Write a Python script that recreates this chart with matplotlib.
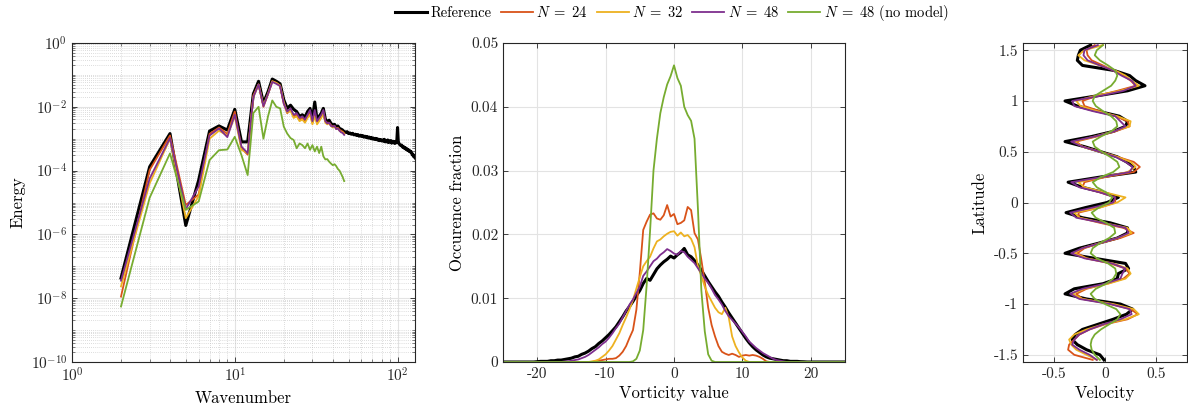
import numpy as np
import matplotlib
matplotlib.use("Agg")
import matplotlib.pyplot as plt
from matplotlib.ticker import LogLocator, NullFormatter, FuncFormatter, FixedLocator

plt.rcParams['font.family'] = 'serif'
plt.rcParams['font.serif'] = ['cmr10']
plt.rcParams['mathtext.fontset'] = 'cm'
plt.rcParams['axes.unicode_minus'] = False
plt.rcParams['axes.formatter.use_mathtext'] = True

# ---------------- data ----------------
labels = ['Reference', r'$N\;=\;24$', r'$N\;=\;32$', r'$N\;=\;48$', r'$N\;=\;48$ (no model)']
colors = ['#000000', '#D95319', '#EDB120', '#7E2F8E', '#77AC30']

# Energy spectrum (log10 of energy)
k_ref = np.arange(2, 129)
k_sim = np.arange(2, 48)
logE_ref = [-7.37, -3.88, -2.84, -5.72, -4.3, -2.76, -2.6, -2.73, -2.08, -3.1,
            -3.1, -1.6, -1.2, -1.88, -1.53, -1.13, -1.2, -1.28, -1.78, -2.05,
            -1.95, -2.08, -2.15, -2.3, -2.25, -2.32, -2.15, -2.05, -2.38, -1.85,
            -2.4, -2.3, -2.2, -2.05, -2.38, -2.47, -2.42, -2.52, -2.57, -2.55,
            -2.63, -2.6, -2.68, -2.7, -2.73, -2.78,
            -2.8, -2.78, -2.84, -2.82, -2.86, -2.83, -2.88, -2.86, -2.9, -2.87,
            -2.92, -2.89, -2.93, -2.9, -2.95, -2.92, -2.96, -2.93, -2.98, -2.95,
            -2.99, -2.96, -3.01, -2.98, -3.02, -2.99, -3.03, -3.0, -3.05, -3.02,
            -3.06, -3.03, -3.07, -3.04, -3.08, -3.02, -3.1, -3.06, -3.1, -3.04,
            -3.12, -3.07, -3.1, -3.06, -3.14, -3.08, -3.12, -3.09, -3.15, -3.1,
            -3.13, -3.05, -2.65, -3.08, -3.15, -3.18, -3.2, -3.22, -3.2, -3.25,
            -3.27, -3.25, -3.3, -3.28, -3.32, -3.3, -3.35, -3.33, -3.37, -3.35,
            -3.4, -3.38, -3.42, -3.4, -3.45, -3.5, -3.48, -3.55, -3.52, -3.58, -3.6]
logE_24 = [-7.95, -3.98, -2.9, -5.08, -4.75, -2.85, -2.65, -2.85, -2.15, -3.3,
           -3.5, -1.65, -1.3, -2.0, -1.6, -1.2, -1.25, -1.35, -1.9, -2.2,
           -2.1, -2.3, -2.25, -2.4, -2.35, -2.45, -2.3, -2.2, -2.5, -2.2,
           -2.5, -2.4, -2.3, -2.15, -2.45, -2.5, -2.5, -2.58, -2.62, -2.6,
           -2.68, -2.66, -2.72, -2.75, -2.78, -2.83]
logE_32 = [-7.63, -4.4, -3.0, -5.49, -4.8, -3.0, -2.75, -2.9, -2.3, -3.35,
           -3.45, -1.7, -1.3, -1.95, -1.6, -1.2, -1.25, -1.33, -1.85, -2.18,
           -2.12, -2.35, -2.3, -2.45, -2.4, -2.5, -2.35, -2.25, -2.55, -2.3,
           -2.55, -2.45, -2.35, -2.2, -2.5, -2.55, -2.52, -2.6, -2.65, -2.62,
           -2.7, -2.68, -2.75, -2.78, -2.8, -2.85]
logE_48 = [-7.45, -4.25, -2.98, -5.21, -4.5, -2.9, -2.68, -2.95, -2.25, -3.25,
           -3.45, -1.7, -1.3, -1.98, -1.6, -1.22, -1.28, -1.35, -1.9, -2.15,
           -2.05, -2.25, -2.2, -2.35, -2.3, -2.4, -2.25, -2.1, -2.45, -2.1,
           -2.45, -2.35, -2.25, -2.1, -2.45, -2.52, -2.5, -2.6, -2.62, -2.6,
           -2.7, -2.68, -2.75, -2.8, -2.82, -2.88]
logE_48nm = [-8.26, -4.85, -3.46, -5.23, -4.97, -3.67, -3.36, -3.34, -2.94, -3.52,
             -4.14, -2.2, -2.0, -3.0, -2.3, -1.8, -2.0, -2.05, -2.62, -2.84,
             -2.98, -3.04, -3.3, -3.15, -3.2, -3.3, -3.15, -3.35, -3.2, -3.4,
             -3.25, -3.45, -3.25, -3.55, -3.65, -3.64, -3.72, -3.78, -3.83, -3.8,
             -3.86, -3.95, -4.0, -4.1, -4.2, -4.33]

# Vorticity histogram
vort = np.arange(-50, 51) * 0.5
occ_ref = [0.0] * 10 + [
    0.00005, 0.0001, 0.0001, 0.0001, 0.0002, 0.0002, 0.0003, 0.0003, 0.0004, 0.0005,
    0.0006, 0.0008, 0.0009, 0.0012, 0.0014, 0.0017, 0.0021, 0.0024, 0.0029, 0.0033,
    0.0038, 0.0043, 0.0049, 0.0055, 0.0063, 0.0071, 0.0080, 0.0087, 0.0095, 0.0104,
    0.0112, 0.0123, 0.0131, 0.0128, 0.0137, 0.0146, 0.0152, 0.0157, 0.0161, 0.0166,
    0.0163, 0.0168, 0.0172, 0.0178, 0.0168, 0.0165, 0.0159, 0.0152, 0.0144, 0.0135,
    0.0126, 0.0118, 0.0110, 0.0103, 0.0094, 0.0086, 0.0077, 0.0069, 0.0061, 0.0053,
    0.0045, 0.0037, 0.0030, 0.0024, 0.0019, 0.0015, 0.0011, 0.0008, 0.0006, 0.0005,
    0.0004, 0.0003, 0.0002, 0.0002, 0.0001, 0.0001, 0.0001, 0.00005, 0.00003] + [0.0] * 12
occ_24 = [0.0] * 27 + [
    0.0001, 0.0002, 0.0003, 0.0004, 0.0005, 0.0005, 0.0006, 0.0010, 0.0016, 0.0025,
    0.0038, 0.0050, 0.0082, 0.0140, 0.0207, 0.0220, 0.0231, 0.0233, 0.0225, 0.0223,
    0.0230, 0.0246, 0.0228, 0.0232, 0.0216, 0.0218, 0.0222, 0.0243, 0.0238, 0.0202,
    0.0192, 0.0160, 0.0125, 0.0085, 0.0058, 0.0040, 0.0025, 0.0016, 0.0013, 0.0011,
    0.0013, 0.0011, 0.0008, 0.0010, 0.0011, 0.0010, 0.0011, 0.0010, 0.0008, 0.0005,
    0.0001] + [0.0] * 23
occ_32 = [0.0] * 26 + [
    0.0001, 0.0002, 0.0004, 0.0008, 0.0012, 0.0018, 0.0025, 0.0035, 0.0045, 0.0058,
    0.0070, 0.0083, 0.0097, 0.0115, 0.0133, 0.0150, 0.0158, 0.0165, 0.0178, 0.0189,
    0.0192, 0.0197, 0.0201, 0.0204, 0.0205, 0.0198, 0.0203, 0.0197, 0.0199, 0.0193,
    0.0180, 0.0150, 0.0135, 0.0118, 0.0105, 0.0095, 0.0085, 0.0078, 0.0075, 0.0085,
    0.0070, 0.0040, 0.0025, 0.0015, 0.0007, 0.0002, 0.0] + [0.0] * 28
occ_48 = [0.0] * 18 + [
    0.0001, 0.0001, 0.0002, 0.0003, 0.0004, 0.0006, 0.0008, 0.0011, 0.0015, 0.0019,
    0.0023, 0.0028, 0.0032, 0.0038, 0.0045, 0.0053, 0.0060, 0.0070, 0.0080, 0.0090,
    0.0098, 0.0108, 0.0118, 0.0135, 0.0142, 0.0150, 0.0158, 0.0162, 0.0168, 0.0172,
    0.0177, 0.0174, 0.0170, 0.0168, 0.0174, 0.0172, 0.0165, 0.0160, 0.0155, 0.0147,
    0.0139, 0.0131, 0.0124, 0.0115, 0.0105, 0.0098, 0.0090, 0.0080, 0.0072, 0.0066,
    0.0060, 0.0054, 0.0047, 0.0040, 0.0032, 0.0027, 0.0022, 0.0018, 0.0014, 0.0011,
    0.0008, 0.0005, 0.0003, 0.0002, 0.0001] + [0.0] * 18
occ_48nm = [0.0] * 38 + [
    0.0001, 0.0005, 0.0018, 0.0050, 0.0120, 0.0205, 0.0300, 0.0350, 0.0390, 0.0415,
    0.0435, 0.0448, 0.0465, 0.0445, 0.0433, 0.0400, 0.0387, 0.0378, 0.0350, 0.0240,
    0.0112, 0.0048, 0.0012, 0.0002] + [0.0] * 39

# Zonal velocity profile
lat = np.round(np.arange(-31, 32) * 0.05, 2)
vel_ref = [-0.01, -0.05, -0.18, -0.27, -0.32, -0.29, -0.22, -0.07, 0.08, 0.21,
           0.27, 0.15, -0.18, -0.39, -0.30, -0.02, 0.12, 0.13, 0.23, 0.20,
           -0.10, -0.39, -0.25, -0.06, 0.12, 0.22, 0.22, 0.05, -0.22, -0.38,
           -0.19, 0.02, 0.13, -0.02, -0.22, -0.36, -0.05, 0.30, 0.28, 0.21,
           0.12, -0.04, -0.20, -0.39, -0.13, 0.08, 0.20, 0.22, 0.14, -0.07,
           -0.27, -0.39, -0.08, 0.22, 0.39, 0.30, 0.24, 0.09, -0.22, -0.27,
           -0.26, -0.24, -0.14]
vel_24 = [-0.12, -0.30, -0.36, -0.35, -0.30, -0.25, -0.15, 0.0, 0.22, 0.32,
          0.25, 0.05, -0.22, -0.28, -0.18, 0.02, 0.18, 0.24, 0.20, 0.05,
          -0.18, -0.27, -0.20, -0.05, 0.15, 0.28, 0.18, -0.05, -0.25, -0.26,
          -0.05, 0.10, 0.10, -0.05, -0.22, -0.20, 0.0, 0.28, 0.34, 0.28,
          0.12, -0.05, -0.22, -0.28, -0.08, 0.10, 0.24, 0.22, 0.10, -0.05,
          -0.20, -0.22, -0.08, 0.12, 0.30, 0.25, 0.18, 0.08, -0.02, -0.13,
          -0.17, -0.18, -0.10]
vel_32 = [-0.08, -0.18, -0.28, -0.33, -0.35, -0.30, -0.18, -0.02, 0.20, 0.33,
          0.28, 0.08, -0.22, -0.32, -0.20, 0.03, 0.20, 0.25, 0.22, 0.08,
          -0.18, -0.30, -0.22, -0.05, 0.12, 0.26, 0.22, -0.02, -0.25, -0.30,
          -0.05, 0.12, 0.20, 0.0, -0.20, -0.26, -0.02, 0.22, 0.30, 0.25,
          0.12, -0.05, -0.22, -0.30, -0.10, 0.08, 0.24, 0.25, 0.12, -0.08,
          -0.24, -0.28, -0.10, 0.15, 0.33, 0.26, 0.20, 0.10, -0.05, -0.20,
          -0.26, -0.20, -0.02]
vel_48 = [-0.08, -0.15, -0.25, -0.32, -0.30, -0.25, -0.15, -0.02, 0.15, 0.26,
          0.24, 0.05, -0.25, -0.34, -0.22, 0.0, 0.15, 0.17, 0.20, 0.07,
          -0.20, -0.33, -0.22, -0.05, 0.12, 0.23, 0.20, -0.02, -0.28, -0.34,
          -0.12, 0.08, 0.10, -0.05, -0.25, -0.33, -0.03, 0.24, 0.27, 0.20,
          0.10, -0.05, -0.22, -0.33, -0.10, 0.09, 0.20, 0.15, 0.10, -0.12,
          -0.30, -0.32, -0.05, 0.18, 0.30, 0.26, 0.16, 0.08, -0.05, -0.17,
          -0.21, -0.20, -0.07]
vel_48nm = [-0.05, -0.10, -0.13, -0.14, -0.13, -0.10, -0.04, 0.04, 0.12, 0.15,
            0.11, 0.0, -0.10, -0.14, -0.09, 0.01, 0.08, 0.11, 0.10, 0.03,
            -0.08, -0.14, -0.12, -0.05, 0.04, 0.10, 0.09, 0.01, -0.09, -0.13,
            -0.06, 0.04, 0.07, 0.01, -0.08, -0.12, -0.04, 0.08, 0.14, 0.12,
            0.05, -0.03, -0.10, -0.12, -0.04, 0.06, 0.12, 0.11, 0.06, -0.02,
            -0.09, -0.12, -0.10, -0.02, 0.06, 0.10, 0.12, 0.10, 0.03, -0.05,
            -0.10, -0.08, -0.02]

for arr in (occ_ref, occ_24, occ_32, occ_48, occ_48nm):
    assert len(arr) == len(vort), len(arr)
for arr in (vel_ref, vel_24, vel_32, vel_48, vel_48nm):
    assert len(arr) == len(lat), len(arr)
assert len(logE_ref) == len(k_ref), len(logE_ref)
for arr in (logE_24, logE_32, logE_48, logE_48nm):
    assert len(arr) == len(k_sim), len(arr)

# ---------------- figure ----------------
fig = plt.figure(figsize=(11.88, 4.08), dpi=100)
W, H = 1188, 408
def rect(x0, x1, y0, y1):
    return [x0 / W, 1 - y1 / H, (x1 - x0) / W, (y1 - y0) / H]

ax1 = fig.add_axes(rect(72, 415, 43, 362))
ax2 = fig.add_axes(rect(503, 845, 43, 362))
ax3 = fig.add_axes(rect(1023, 1187, 43, 362))

lw = [2.2, 1.3, 1.3, 1.3, 1.3]
grid_col = '#e3e3e3'

def style(ax):
    ax.tick_params(direction='in', top=True, right=True, length=3.5, width=0.6,
                   labelsize=11, colors='#262626', labelcolor='#262626')
    ax.tick_params(which='minor', direction='in', top=True, right=True, length=2, width=0.4,
                   colors='#262626')
    for s in ax.spines.values():
        s.set_linewidth(0.8)
        s.set_color('#262626')
    ax.set_axisbelow(True)

# Left: energy spectrum
E_sets = [(k_ref, logE_ref), (k_sim, logE_24), (k_sim, logE_32), (k_sim, logE_48), (k_sim, logE_48nm)]
handles = []
for (kk, le), c, l, w in zip(E_sets, colors, labels, lw):
    h, = ax1.loglog(kk, 10.0 ** np.array(le), color=c, lw=w, label=l)
    handles.append(h)
ax1.set_xlim(1, 128)
ax1.set_ylim(1e-10, 1)
ax1.yaxis.set_major_locator(FixedLocator([1e-10, 1e-8, 1e-6, 1e-4, 1e-2, 1]))
ax1.yaxis.set_minor_locator(LogLocator(base=10, subs=np.arange(1, 10), numticks=50))
ax1.yaxis.set_minor_formatter(NullFormatter())
ax1.xaxis.set_major_locator(FixedLocator([1, 10, 100]))
ax1.xaxis.set_minor_locator(LogLocator(base=10, subs=np.arange(2, 10), numticks=50))
ax1.xaxis.set_minor_formatter(NullFormatter())
ax1.yaxis.set_major_formatter(FuncFormatter(lambda v, p: r'$10^{%d}$' % round(np.log10(v))))
ax1.xaxis.set_major_formatter(FuncFormatter(lambda v, p: r'$10^{%d}$' % round(np.log10(v))))
ax1.grid(True, which='major', color=grid_col, lw=0.8, ls='-')
ax1.grid(True, which='minor', color='#bdbdbd', lw=0.5, ls=(0, (1, 2)))
ax1.set_xlabel('Wavenumber', fontsize=12)
ax1.set_ylabel('Energy', fontsize=12)
style(ax1)

# Middle: vorticity histogram
for arr, c, w in zip((occ_ref, occ_24, occ_32, occ_48, occ_48nm), colors, lw):
    ax2.plot(vort, arr, color=c, lw=w)
ax2.set_xlim(-25, 25)
ax2.set_ylim(0, 0.05)
ax2.set_xticks([-20, -10, 0, 10, 20])
ax2.set_yticks([0, 0.01, 0.02, 0.03, 0.04, 0.05])
fmt = FuncFormatter(lambda v, p: ('%g' % round(v, 4)))
ax2.xaxis.set_major_formatter(fmt)
ax2.yaxis.set_major_formatter(fmt)
ax2.grid(True, color=grid_col, lw=0.8)
ax2.set_xlabel('Vorticity value', fontsize=12)
ax2.set_ylabel('Occurence fraction', fontsize=12)
style(ax2)

# Right: velocity profile
for arr, c, w in zip((vel_ref, vel_24, vel_32, vel_48, vel_48nm), colors, lw):
    ax3.plot(arr, lat, color=c, lw=w, solid_joinstyle='round')
ax3.set_xlim(-0.8, 0.8)
ax3.set_ylim(-np.pi / 2, np.pi / 2)
ax3.set_xticks([-0.5, 0, 0.5])
ax3.set_yticks([-1.5, -1, -0.5, 0, 0.5, 1, 1.5])
ax3.xaxis.set_major_formatter(fmt)
ax3.yaxis.set_major_formatter(fmt)
ax3.grid(True, color=grid_col, lw=0.8)
ax3.set_xlabel('Velocity', fontsize=12)
ax3.set_ylabel('Latitude', fontsize=12)
style(ax3)

fig.legend(handles=handles, labels=labels, loc='center', bbox_to_anchor=(672 / W, 1 - 13 / H),
           ncol=5, frameon=False, fontsize=10.5, handlelength=2.2, handletextpad=0.25,
           columnspacing=0.6, borderaxespad=0)

fig.savefig('out.png', dpi=100)
